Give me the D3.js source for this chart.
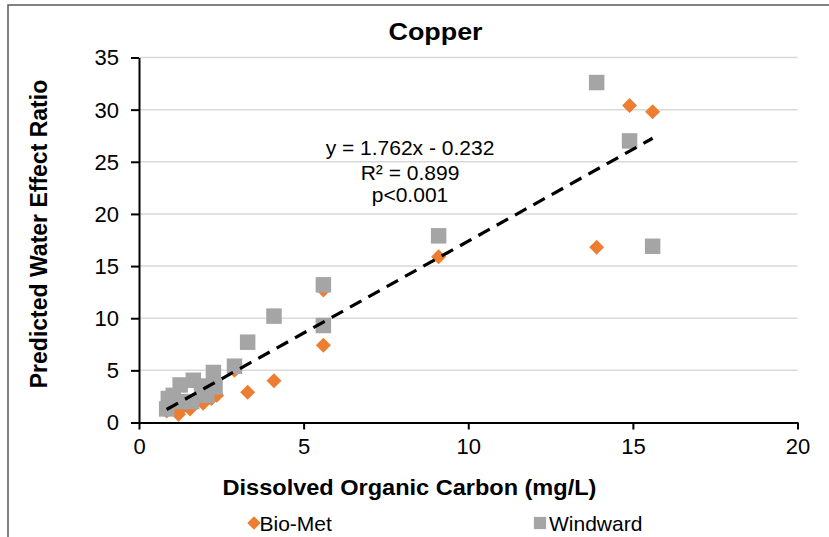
<!DOCTYPE html>
<html>
<head>
<meta charset="utf-8">
<script src="https://cdn.jsdelivr.net/npm/d3@7"></script>
<style>
  body { margin: 0; background: #fff; }
  svg { display: block; font-family: 'Liberation Sans', Arial, sans-serif; }
</style>
</head>
<body>
<div class="chart"></div>
<script>
const TITLE = 'Copper'
const X_LABEL = 'Dissolved Organic Carbon (mg/L)'
const Y_LABEL = 'Predicted Water Effect Ratio'
const X_TICKS = [0, 5, 10, 15, 20]
const Y_TICKS = [0, 5, 10, 15, 20, 25, 30, 35]
const SERIES_NAMES = ['Bio-Met', 'Windward']
const COLORS = ['#ed7d31', '#a5a5a5']

// [DOC, WER]
const bioMet = [
  [0.84, 1.1], [1.0, 1.5], [1.2, 0.8], [1.3, 1.4], [1.55, 1.3], [1.75, 2.0],
  [1.95, 1.85], [2.2, 2.3], [2.36, 2.6], [2.9, 5.0], [3.3, 2.9], [4.1, 4.0],
  [5.6, 7.4], [5.6, 12.7], [9.1, 15.9], [13.9, 16.8], [14.9, 30.4], [15.6, 29.8]
]
const windward = [
  [0.84, 1.3], [0.89, 2.3], [1.04, 2.6], [1.25, 3.6], [1.2, 2.0], [1.6, 2.0],
  [1.65, 4.05], [2.06, 2.6], [2.26, 4.8], [2.31, 3.4], [1.9, 3.5], [2.9, 5.4],
  [3.3, 7.7], [4.1, 10.2], [5.6, 9.3], [5.6, 13.2], [9.1, 17.9], [13.9, 32.6],
  [14.9, 27.0], [15.6, 16.9]
]
const FIT = { slope: 1.762, intercept: -0.232, from: 0.84, to: 15.6 }
const FIT_TEXT = ['y = 1.762x - 0.232', 'R² = 0.899', 'p<0.001']

const width = 829
const height = 537

const svg = d3.select('.chart').append('svg')
  .attr('width', width)
  .attr('height', height)

// outer frame (only top and left edges are visible in the crop)
svg.append('rect')
  .attr('x', 8).attr('y', 5)
  .attr('width', 900).attr('height', 600)
  .attr('fill', 'none')
  .attr('stroke', '#595959')
  .attr('stroke-width', 1.5)

const scaleX = d3.scaleLinear().domain([0, 20]).range([139, 797.5])
const scaleY = d3.scaleLinear().domain([0, 35]).range([422.5, 57.5])

// gridlines
svg.append('g').attr('class', 'grid')
  .selectAll('line')
  .data(Y_TICKS.filter(d => d > 0))
  .enter().append('line')
    .attr('x1', scaleX(0))
    .attr('x2', scaleX(20))
    .attr('y1', d => scaleY(d))
    .attr('y2', d => scaleY(d))
    .attr('stroke', '#d9d9d9')
    .attr('stroke-width', 1.5)

// axes
const axisBottom = d3.axisBottom(scaleX).tickValues(X_TICKS).tickSizeInner(7).tickSizeOuter(0).tickPadding(8)
const axisLeft = d3.axisLeft(scaleY).tickValues(Y_TICKS).tickSizeInner(8).tickSizeOuter(0).tickPadding(12)

const x = svg.append('g')
  .attr('class', 'axis axis--x')
  .attr('transform', `translate(0,${scaleY(0)})`)
  .call(axisBottom)

const y = svg.append('g')
  .attr('class', 'axis axis--y')
  .attr('transform', `translate(${scaleX(0)},0)`)
  .call(axisLeft)

svg.selectAll('.axis path, .axis line')
  .attr('stroke', '#000')
  .attr('stroke-width', 2)

x.selectAll('text')
  .attr('font-size', 22)
  .attr('font-family', null)
  .attr('fill', '#000')
  .attr('dy', '0.75em')

y.selectAll('text')
  .attr('font-size', 22)
  .attr('font-family', null)
  .attr('fill', '#000')
  .attr('dy', '0.34em')

// series (Bio-Met underneath, Windward on top)
const plot = svg.append('g').attr('class', 'g-plot')

plot.selectAll('path.biomet')
  .data(bioMet)
  .enter().append('path')
    .attr('class', 'biomet')
    .attr('d', d3.symbol(d3.symbolSquare, 112))
    .attr('transform', d => `translate(${scaleX(d[0])},${scaleY(d[1])}) rotate(45)`)
    .attr('fill', COLORS[0])

plot.selectAll('path.windward')
  .data(windward)
  .enter().append('path')
    .attr('class', 'windward')
    .attr('d', d3.symbol(d3.symbolSquare, 240))
    .attr('transform', d => `translate(${scaleX(d[0])},${scaleY(d[1])})`)
    .attr('fill', COLORS[1])

// trend line
const fitLine = d3.line()
  .x(d => scaleX(d))
  .y(d => scaleY(FIT.slope * d + FIT.intercept))

plot.append('path')
  .datum([FIT.from, FIT.to])
  .attr('d', fitLine)
  .attr('fill', 'none')
  .attr('stroke', '#000')
  .attr('stroke-width', 3.2)
  .attr('stroke-dasharray', '13,8')

svg.append('g').attr('class', 'fit-label')
  .selectAll('text')
  .data(FIT_TEXT)
  .enter().append('text')
    .attr('x', 410)
    .attr('y', (d, i) => [155, 179.5, 202][i])
    .attr('text-anchor', 'middle')
    .attr('font-size', 21)
    .text(d => d)

// titles (the source image is slightly stretched sideways)
svg.append('text')
  .attr('transform', 'translate(435.5,40) scale(1.12,1)')
  .attr('text-anchor', 'middle')
  .attr('font-size', 24)
  .attr('font-weight', 'bold')
  .text(TITLE)

svg.append('text')
  .attr('transform', 'translate(409.5,495) scale(1.07,1)')
  .attr('text-anchor', 'middle')
  .attr('font-size', 22)
  .attr('font-weight', 'bold')
  .text(X_LABEL)

svg.append('text')
  .attr('transform', 'translate(46.5,234) rotate(-90)')
  .attr('text-anchor', 'middle')
  .attr('font-size', 23)
  .attr('font-weight', 'bold')
  .text(Y_LABEL)

// legend
const legend = svg.append('g').attr('class', 'legend')
const legendX = [254, 540]

legend.append('path')
  .attr('d', d3.symbol(d3.symbolSquare, 90))
  .attr('transform', `translate(${legendX[0]},523) rotate(45)`)
  .attr('fill', COLORS[0])

legend.append('path')
  .attr('d', d3.symbol(d3.symbolSquare, 150))
  .attr('transform', `translate(${legendX[1]},523)`)
  .attr('fill', COLORS[1])

legend.selectAll('text')
  .data(SERIES_NAMES)
  .enter().append('text')
    .attr('x', (d, i) => legendX[i] + (i === 0 ? 5.5 : 9))
    .attr('y', 530.5)
    .attr('font-size', 21)
    .text(d => d)
</script>
</body>
</html>
